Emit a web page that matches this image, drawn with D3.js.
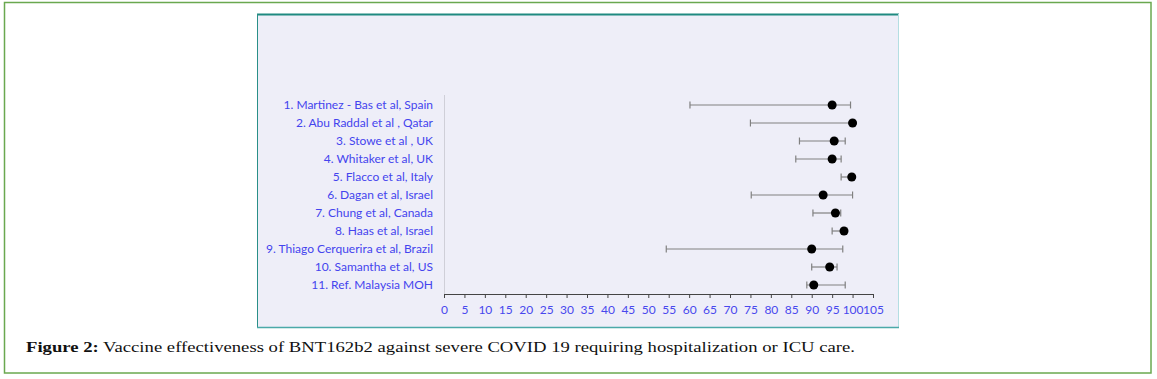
<!DOCTYPE html>
<html>
<head>
<meta charset="utf-8">
<script src="https://cdn.jsdelivr.net/npm/d3@7"></script>
<style>
body { margin: 0; background: #fff; }
svg { display: block; }
</style>
</head>
<body>
<div id="chart"></div>
<script>
var studies = ["1. Martinez - Bas et al, Spain", "2. Abu Raddal et al , Qatar", "3. Stowe et al , UK",
	"4. Whitaker et al, UK", "5. Flacco  et al, Italy", "6. Dagan et al, Israel", "7. Chung et al, Canada",
	"8. Haas et al, Israel", "9. Thiago Cerquerira et al, Brazil", "10. Samantha et al, US", "11. Ref. Malaysia MOH"];
var effect = [95, 100, 95.5, 95, 99.8, 92.8, 95.8, 97.9, 90, 94.4, 90.5];
var lower = [60.2, 75, 87, 86.1, 97.2, 75.2, 90.3, 95, 54.4, 90, 88.8];
var upper = [99.5, 100, 98.2, 97.2, 100, 100, 97.1, 98.6, 97.6, 96.2, 98.2];
var xTicks = d3.range(0, 106, 5);

var width = 1157, height = 379;
var svg = d3.select("#chart").append("svg").attr("width", width).attr("height", height);

// outer frame
svg.append("rect").attr("x", 4.5).attr("y", 2.5).attr("width", 1146.5).attr("height", 370.5)
	.attr("fill", "none").attr("stroke", "#6aa84f").attr("stroke-width", 1.5);

// chart panel
svg.append("rect").attr("x", 257).attr("y", 14).attr("width", 642).attr("height", 314).attr("fill", "#eeeef8");
svg.append("line").attr("x1", 257).attr("x2", 899).attr("y1", 14.5).attr("y2", 14.5).attr("stroke", "#1f8a80").attr("stroke-width", 2);
svg.append("line").attr("x1", 257.5).attr("x2", 257.5).attr("y1", 14).attr("y2", 328).attr("stroke", "#2a8f88");
svg.append("line").attr("x1", 898.5).attr("x2", 898.5).attr("y1", 14).attr("y2", 328).attr("stroke", "#b4dee2");
svg.append("line").attr("x1", 257).attr("x2", 899).attr("y1", 327.5).attr("y2", 327.5).attr("stroke", "#4aa9a9").attr("stroke-width", 1.5);

var x = d3.scaleLinear().domain([0, 105]).range([444, 873]);
var y = d3.scalePoint().domain(studies).range([105, 285]);

// y axis line
svg.append("line").attr("x1", 444.5).attr("x2", 444.5).attr("y1", 95).attr("y2", 294)
	.attr("stroke", "#cfcfd8");

// x axis
var xAxis = svg.append("g").attr("transform", "translate(0,294)")
	.call(d3.axisBottom(x).tickValues(xTicks).tickSize(4).tickSizeOuter(0).tickFormat(d3.format("d")));
xAxis.select(".domain").attr("stroke", "#444");
xAxis.selectAll(".tick line").attr("stroke", "#444");
xAxis.selectAll(".tick text").attr("fill", "#4848ee").attr("font-family", "Lato, 'Open Sans', sans-serif")
	.attr("font-size", 12).attr("dy", "1.05em");

// study labels
svg.selectAll(".lab").data(studies).enter().append("text")
	.attr("class", "lab")
	.attr("x", 433).attr("y", function(d){return y(d);})
	.attr("dy", "0.35em").attr("text-anchor", "end")
	.attr("fill", "#4444ee").attr("font-family", "Lato, 'Open Sans', sans-serif").attr("font-size", 12)
	.text(function(d){return d;});

// error bars
var rows = studies.map(function(s, i){return {s: s, e: effect[i], lo: lower[i], hi: upper[i]};});
var g = svg.selectAll(".row").data(rows).enter().append("g").attr("class", "row");
g.append("line")
	.attr("x1", function(d){return x(d.lo);}).attr("x2", function(d){return x(d.hi);})
	.attr("y1", function(d){return y(d.s);}).attr("y2", function(d){return y(d.s);})
	.attr("stroke", "#808080").attr("stroke-width", 1.2);
g.append("line")
	.attr("x1", function(d){return x(d.lo);}).attr("x2", function(d){return x(d.lo);})
	.attr("y1", function(d){return y(d.s) - 3.5;}).attr("y2", function(d){return y(d.s) + 3.5;})
	.attr("stroke", "#808080").attr("stroke-width", 1.2);
g.append("line")
	.attr("x1", function(d){return x(d.hi);}).attr("x2", function(d){return x(d.hi);})
	.attr("y1", function(d){return y(d.s) - 3.5;}).attr("y2", function(d){return y(d.s) + 3.5;})
	.attr("stroke", "#808080").attr("stroke-width", 1.2);
g.append("circle")
	.attr("cx", function(d){return x(d.e);}).attr("cy", function(d){return y(d.s);})
	.attr("r", 4.5).attr("fill", "#000");

// caption
var cap = svg.append("text").attr("x", 26).attr("y", 352)
	.attr("font-family", "'Liberation Serif', 'DejaVu Serif', serif").attr("font-size", 15).attr("fill", "#111")
	.attr("textLength", 829).attr("lengthAdjust", "spacingAndGlyphs");
cap.append("tspan").attr("font-weight", "bold").text("Figure 2:");
cap.append("tspan").text(" Vaccine effectiveness of BNT162b2 against severe COVID 19 requiring hospitalization or ICU care.");
</script>
</body>
</html>
